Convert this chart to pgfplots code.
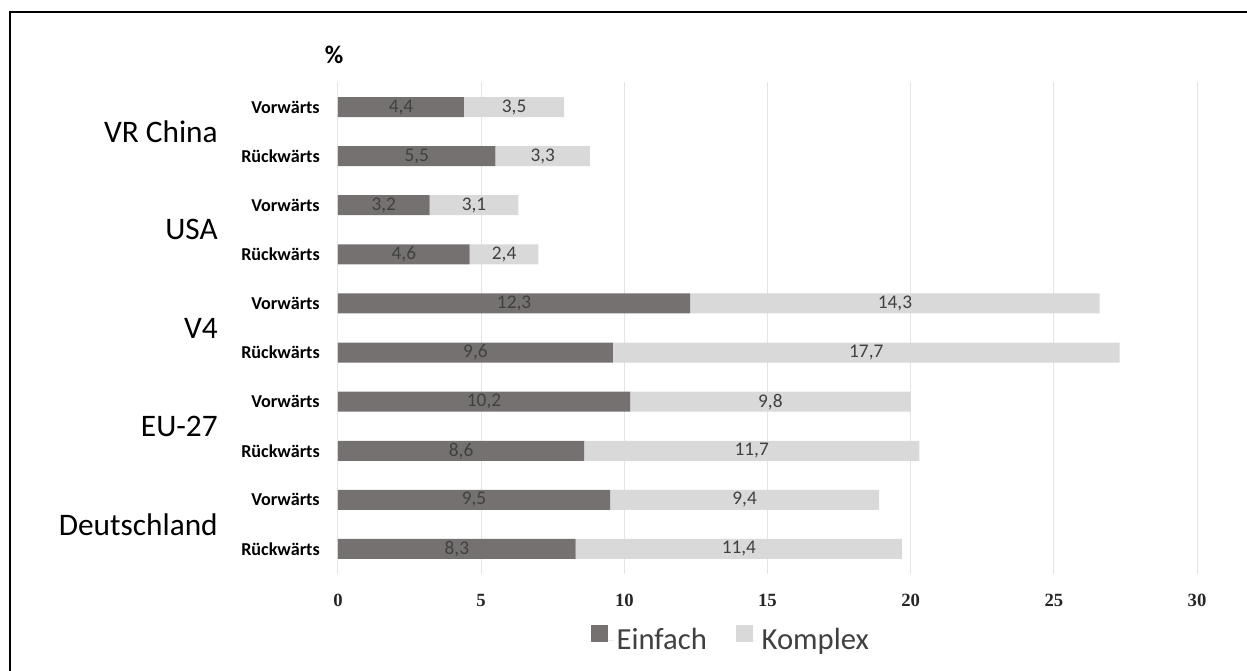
\documentclass[border=0pt]{standalone}
\usepackage{fontspec}
\setmainfont{Carlito}
\newfontfamily\tickfont{Liberation Serif}
\usepackage{pgfplots}
\usepackage{pgfplotstable}
\pgfplotsset{compat=1.18}
\definecolor{einf}{HTML}{767171}
\definecolor{kompl}{HTML}{D9D9D9}
\definecolor{lbl}{HTML}{404040}
\definecolor{gridc}{HTML}{E4E4E4}

\pgfplotstableread{
pos a b la lb
0 4.4 3.5 4,4 3,5
1 5.5 3.3 5,5 3,3
2 3.2 3.1 3,2 3,1
3 4.6 2.4 4,6 2,4
4 12.3 14.3 12,3 14,3
5 9.6 17.7 9,6 17,7
6 10.2 9.8 10,2 9,8
7 8.6 11.7 8,6 11,7
8 9.5 9.4 9,5 9,4
9 8.3 11.4 8,3 11,4
}\data

\begin{document}
\begin{tikzpicture}
\path[use as bounding box] (0,0) rectangle (935.25pt,503.25pt);
\draw[line width=1.8pt] (7.5pt,0) -- (7.5pt,494.25pt) -- (935.25pt,494.25pt);
\begin{axis}[
  at={(253.5pt,73.125pt)}, anchor=south west,
  scale only axis, width=644.25pt, height=368.25pt,
  xmin=0, xmax=30, ymin=-0.5, ymax=9.5, y dir=reverse,
  xbar stacked, bar width=15pt,
  xtick={0,5,...,30}, ytick={0,...,9},
  yticklabels={Vorwärts,Rückwärts,Vorwärts,Rückwärts,Vorwärts,Rückwärts,Vorwärts,Rückwärts,Vorwärts,Rückwärts},
  xmajorgrids, grid style={draw=gridc, line width=0.75pt},
  axis line style={draw=none}, major tick length=0pt,
  /pgf/number format/assume math mode=true,
  yticklabel style={font=\bfseries\fontsize{13.6}{13.6}\selectfont, anchor=east, inner sep=0pt, xshift=-13.5pt},
  xticklabel style={font=\tickfont\bfseries\fontsize{14}{14}\selectfont, text=black!85, anchor=base, inner sep=0pt, yshift=-25pt},
  legend style={at={(0.458,-0.1354)}, anchor=center, draw=none, fill=none, legend columns=2,
    font=\fontsize{23}{23}\selectfont, text=lbl,
    /tikz/every even column/.append style={column sep=20pt}},
  legend image code/.code={\fill[#1] (0pt,-1.5pt) rectangle (12.75pt,11.25pt); \path (0pt,0pt) -- (17pt,0pt);},
  clip=false,
]
\addplot[fill=einf, draw=none] table[x=a, y=pos]{\data};
\addplot[fill=kompl, draw=none] table[x=b, y=pos]{\data};
\legend{Einfach, Komplex}
\node[anchor=east, inner sep=0pt, font=\fontsize{23.5}{23.5}\selectfont] at ([xshift=-90pt]axis cs:0,0.5) {VR China};
\node[anchor=east, inner sep=0pt, font=\fontsize{23.5}{23.5}\selectfont] at ([xshift=-90pt]axis cs:0,2.5) {USA};
\node[anchor=east, inner sep=0pt, font=\fontsize{23.5}{23.5}\selectfont] at ([xshift=-90pt]axis cs:0,4.5) {V4};
\node[anchor=east, inner sep=0pt, font=\fontsize{23.5}{23.5}\selectfont] at ([xshift=-90pt]axis cs:0,6.5) {EU-27};
\node[anchor=east, inner sep=0pt, font=\fontsize{23.5}{23.5}\selectfont] at ([xshift=-90pt]axis cs:0,8.5) {Deutschland};
\end{axis}
\begin{axis}[
  at={(253.5pt,73.125pt)}, anchor=south west,
  scale only axis, width=644.25pt, height=368.25pt,
  xmin=0, xmax=30, ymin=-0.5, ymax=9.5, y dir=reverse,
  hide axis, clip=false,
]
\addplot[only marks, mark=none, nodes near coords, point meta=explicit symbolic,
  nodes near coords style={anchor=center, font=\fontsize{14.5}{14.5}\selectfont, text=lbl}]
  table[x expr=\thisrow{a}/2, y=pos, meta=la]{\data};
\addplot[only marks, mark=none, nodes near coords, point meta=explicit symbolic,
  nodes near coords style={anchor=center, font=\fontsize{14.5}{14.5}\selectfont, text=lbl}]
  table[x expr=\thisrow{a}+\thisrow{b}/2, y=pos, meta=lb]{\data};
\end{axis}
\node[font=\bfseries\fontsize{19}{19}\selectfont] at (250.5pt,462pt) {\%};
\end{tikzpicture}
\end{document}
